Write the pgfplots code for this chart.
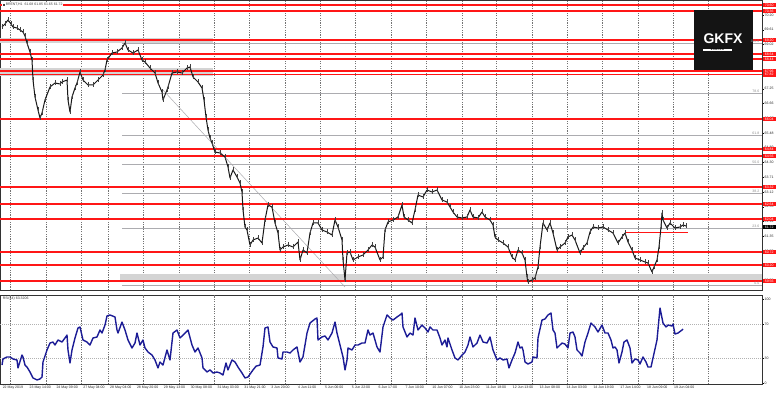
\documentclass[border=0pt]{standalone}
\usepackage{fontspec}
\setmainfont{Liberation Sans}
\usepackage{pgfplots}
\pgfplotsset{compat=1.18}
\definecolor{rsiblue}{RGB}{28,28,150}
\definecolor{mtred}{RGB}{255,22,22}
\definecolor{bandgray}{RGB}{212,212,212}
\definecolor{fibgray}{RGB}{172,172,176}
\newcommand{\tinyf}{\fontsize{3.5}{4}\selectfont}
\pgfplotsset{
  mtgrid/.style={
    extra x ticks={10,46,81,108,143,179,214,249,285,320,355,391,426,462,496,532,567,602,638,673,708},
    extra x tick labels={},
    extra x tick style={grid=major, major tick length=0pt},
    major grid style={black!55, dash pattern=on 1.2pt off 1.2pt, line width=0.35pt},
  }
}
\begin{document}
\begin{tikzpicture}
\useasboundingbox (0pt,0pt) rectangle (780pt,395pt);
\fill[white] (0pt,0pt) rectangle (780pt,395pt);
% ---------------- price panel ----------------
\begin{axis}[
  at={(0pt,105pt)}, anchor=south west, scale only axis,
  width=762pt, height=290pt,
  xmin=0, xmax=762, ymin=59.20, ymax=70.80,
  clip=false,
  xtick=\empty, mtgrid,
  ytick={59.58,60.17,60.76,61.35,61.94,62.53,63.12,63.71,64.30,64.89,65.48,66.07,66.66,67.25,67.84,68.43,69.02,69.61,70.20},
  ytick pos=right, yticklabel pos=right,
  y tick label style={font=\tinyf, inner sep=1pt, text=black!85,
    /pgf/number format/.cd, fixed, fixed zerofill, precision=2, assume math mode=true},
  tick style={black, line width=0.3pt}, major tick length=1.5pt, tick align=outside,
  axis line style={black!80, line width=0.5pt},
]
% grey zones
\addplot[fill=bandgray, draw=none] coordinates {(0,69.08) (213,69.08) (213,69.28) (0,69.28)} -- cycle;
\addplot[fill=bandgray, draw=none] coordinates {(0,67.76) (213,67.76) (213,68.08) (0,68.08)} -- cycle;
\addplot[fill=bandgray, draw=none] coordinates {(120,59.56) (762,59.56) (762,59.84) (120,59.84)} -- cycle;
% fibonacci levels
\pgfplotsinvokeforeach{69.08,67.08,65.40,64.24,63.08,61.68,59.40}{
  \addplot[fibgray, line width=0.5pt] coordinates {(122,#1) (762,#1)};
}
% trend line
\addplot[fibgray, line width=0.5pt] coordinates {(163,67.20) (345,59.32)};
% red levels
\pgfplotsinvokeforeach{70.60,70.36,69.20,68.64,68.44,67.96,67.82,66.04,64.84,64.56,63.32,62.64,62.04,60.72,60.20,59.56}{
  \addplot[mtred, line width=1.3pt] coordinates {(0,#1) (762,#1)};
}
\addplot[mtred, line width=0.6pt] coordinates {(625,61.52) (688,61.52)};
% price
\addplot[black!90, line width=1pt, line join=round,
  error bars/.cd, y dir=both, y fixed=0.1, error mark=none,
  error bar style={black!75, line width=0.4pt}] coordinates {
(2,69.72)(5,69.84)(8,70.00)(11,69.84)(13,69.72)(17,69.68)(20,69.60)(23,69.52)(25,69.36)(27,69.08)
(30,68.72)(32,68.40)(33,67.60)(35,66.92)(38,66.40)(40,66.08)(42,66.28)(45,66.80)(50,67.32)(55,67.48)
(60,67.44)(62,67.52)(67,67.60)(68,66.80)(70,66.32)(72,66.92)(75,67.28)(77,67.48)(80,67.92)(83,67.60)
(88,67.40)(93,67.40)(98,67.60)(103,67.80)(105,68.00)(107,68.40)(112,68.68)(117,68.72)(122,68.88)(125,69.08)
(128,68.80)(133,68.68)(138,68.80)(142,68.40)(145,68.32)(150,68.08)(155,67.88)(158,67.48)(162,67.12)(163,66.80)
(167,67.20)(168,67.32)(172,67.88)(177,67.92)(182,67.88)(187,68.08)(190,68.12)(193,67.72)(198,67.52)(202,67.28)
(204,66.80)(206,66.12)(208,65.60)(210,65.28)(212,65.08)(215,64.72)(220,64.68)(225,64.52)(228,64.12)(230,63.68)
(233,64.00)(237,63.72)(240,63.48)(242,63.12)(243,62.40)(245,61.72)(247,61.60)(250,61.00)(253,61.20)(258,61.28)
(262,61.08)(265,62.00)(268,62.60)(272,62.52)(275,61.88)(278,61.48)(280,60.80)(283,60.92)(288,61.00)(293,60.92)
(298,61.12)(300,60.40)(303,60.80)(307,60.68)(310,61.48)(313,61.88)(318,61.88)(322,61.60)(327,61.52)(332,61.40)
(335,62.00)(338,61.72)(342,61.20)(343,60.40)(345,59.60)(347,60.68)(350,60.72)(353,60.40)(358,60.52)(363,60.60)
(368,60.80)(372,61.00)(375,60.92)(380,60.40)(383,60.52)(385,61.60)(388,61.92)(393,62.00)(398,62.12)(402,62.60)
(404,62.12)(408,62.00)(412,61.88)(415,62.40)(418,63.00)(423,62.92)(427,63.20)(432,63.12)(437,63.20)(442,62.80)
(447,62.72)(450,62.52)(453,62.32)(457,62.12)(462,62.08)(467,62.12)(470,62.40)(473,62.12)(478,62.08)(482,62.32)
(485,62.12)(490,62.00)(493,61.80)(495,61.32)(498,61.20)(503,61.08)(508,60.92)(512,60.52)(515,60.40)(518,60.80)
(522,60.68)(525,60.40)(527,59.72)(528,59.52)(532,59.60)(535,59.68)(538,60.12)(540,60.92)(543,61.88)(547,61.60)
(550,61.88)(553,61.48)(557,60.80)(560,60.92)(565,61.08)(568,61.32)(572,61.40)(575,61.20)(580,60.68)(583,60.88)
(587,61.08)(590,61.52)(593,61.72)(598,61.68)(603,61.72)(608,61.60)(613,61.48)(618,61.08)(622,61.32)(625,61.48)
(628,61.12)(632,60.80)(635,60.48)(640,60.40)(645,60.32)(648,60.28)(652,59.92)(654,60.12)(657,60.40)(659,60.92)
(661,61.72)(662,62.28)(663,62.00)(667,61.68)(670,61.88)(675,61.68)(680,61.72)(683,61.80)(686,61.76)
};
% logo
\fill[black!92] (axis cs:694,68.00) rectangle (axis cs:753,70.40);
\node[text=white, font=\bfseries\fontsize{14}{14}\selectfont, inner sep=0pt] at (axis cs:723,69.26) {GKFX};
\node[fill=white, text=black, inner sep=0.2pt, minimum width=29pt, font=\bfseries\fontsize{2.6}{2.8}\selectfont] at (axis cs:717.5,68.80) {E\,U\,R\,O\,P\,E};
% fib labels
\node[anchor=south east, font=\tinyf, text=black!45, inner sep=0.5pt] at (axis cs:760,69.08) {100.0};
\node[anchor=south east, font=\tinyf, text=black!45, inner sep=0.5pt] at (axis cs:760,67.08) {78.6};
\node[anchor=south east, font=\tinyf, text=black!45, inner sep=0.5pt] at (axis cs:760,65.40) {61.8};
\node[anchor=south east, font=\tinyf, text=black!45, inner sep=0.5pt] at (axis cs:760,64.24) {50.0};
\node[anchor=south east, font=\tinyf, text=black!45, inner sep=0.5pt] at (axis cs:760,63.08) {38.2};
\node[anchor=south east, font=\tinyf, text=black!45, inner sep=0.5pt] at (axis cs:760,61.68) {23.6};
\node[anchor=south east, font=\tinyf, text=black!45, inner sep=0.5pt] at (axis cs:760,59.40) {0.0};
% red price tags
\pgfplotsinvokeforeach{70.60,70.36,69.20,68.64,68.44,67.96,67.82,66.04,64.84,64.56,63.32,62.64,62.04,60.72,60.20,59.56}{
  \node[anchor=west, fill=mtred, text=white, font=\tinyf, inner sep=0.5pt, minimum width=13pt, minimum height=4.4pt] at (axis cs:762.5,#1) {#1};
}
\node[anchor=west, fill=black, text=white, font=\tinyf, inner sep=0.5pt, minimum width=13pt, minimum height=4.4pt] at (axis cs:762.5,61.72) {61.72};
% title
\node[anchor=west, fill=white, font=\tinyf, text=black!75, inner sep=0.6pt] at (axis cs:2,70.60) {\rule{2pt}{2pt}\ BRENT,H1 \ 61.68 61.85 61.65 61.72};
\end{axis}
% ---------------- RSI panel ----------------
\begin{axis}[
  at={(0pt,11pt)}, anchor=south west, scale only axis,
  width=762pt, height=89pt,
  xmin=0, xmax=762, ymin=-1.2, ymax=104.8,
  clip=false,
  xtick={2,28.85,55.7,82.55,109.4,136.25,163.1,189.95,216.8,243.65,270.5,297.35,324.2,351.05,377.9,404.75,431.6,458.45,485.3,512.15,539,565.85,592.7,619.55,646.4,673.25},
  xticklabels={22 May 2019,23 May 14:00,24 May 09:00,27 May 04:00,28 May 04:00,28 May 20:00,29 May 13:00,30 May 08:00,31 May 03:00,31 May 21:00,3 Jun 20:00,4 Jun 11:00,5 Jun 06:00,5 Jun 22:00,6 Jun 17:00,7 Jun 10:00,10 Jun 07:00,10 Jun 23:00,11 Jun 18:00,12 Jun 13:00,13 Jun 08:00,14 Jun 03:00,14 Jun 19:00,17 Jun 14:00,18 Jun 09:00,19 Jun 04:00},
  xtick pos=left,
  x tick label style={font=\tinyf, anchor=north west, inner sep=0.6pt, text=black!85},
  mtgrid,
  ytick={0,30,70,100}, ytick pos=right, yticklabel pos=right,
  y tick label style={font=\tinyf, inner sep=1pt, text=black!85, /pgf/number format/assume math mode=true},
  tick style={black, line width=0.3pt}, major tick length=1.5pt, tick align=outside,
  axis line style={black!80, line width=0.5pt},
]
\addplot[black!30, dash pattern=on 1pt off 1pt, line width=0.3pt] coordinates {(0,70) (762,70)};
\addplot[black!30, dash pattern=on 1pt off 1pt, line width=0.3pt] coordinates {(0,30) (762,30)};
\addplot[rsiblue, line width=1.4pt, line join=round] coordinates {
(2,21.4)(3,28.6)(7,31.0)(10,31.0)(13,28.6)(17,27.4)(18,17.9)(22,33.3)(23,31.0)(25,21.4)
(27,19.0)(30,13.1)(33,6.0)(37,3.6)(40,4.8)(42,7.1)(43,25.0)(47,39.3)(50,47.6)(53,48.8)
(55,45.2)(58,51.2)(62,48.8)(65,53.6)(67,57.1)(68,39.3)(70,23.8)(72,39.3)(75,53.6)(78,65.5)
(80,66.7)(83,51.2)(87,48.8)(90,45.2)(93,53.6)(97,54.8)(100,63.1)(102,59.5)(105,69.0)(107,79.8)
(110,81.0)(115,78.6)(117,63.1)(118,59.5)(122,72.6)(125,63.1)(128,51.2)(132,41.7)(135,47.6)(137,59.5)
(140,45.2)(143,51.2)(145,41.7)(148,36.9)(152,33.3)(155,27.4)(158,17.9)(160,25.0)(163,21.4)(167,39.3)
(170,27.4)(173,59.5)(177,63.1)(180,53.6)(183,57.1)(188,63.1)(192,45.2)(195,36.9)(198,41.7)(202,29.8)
(203,17.9)(207,13.1)(210,15.5)(213,11.9)(217,13.1)(220,11.9)(223,9.5)(226,23.8)(228,15.5)(232,27.4)
(235,25.0)(238,19.0)(242,11.9)(245,6.0)(248,7.1)(253,15.5)(256,20.0)(260,21.4)(263,42.9)(265,65.5)
(268,66.7)(270,48.8)(273,42.9)(277,41.7)(278,29.8)(282,28.6)(283,36.9)(287,36.9)(290,35.7)(293,39.3)
(297,42.9)(300,25.0)(303,31.0)(307,59.5)(310,71.4)(315,76.2)(317,77.4)(318,51.2)(322,54.8)(325,56.0)
(328,51.2)(332,59.5)(335,72.6)(337,59.5)(340,45.2)(343,31.0)(345,15.5)(347,27.4)(348,41.7)(352,39.3)
(355,45.2)(358,45.2)(362,47.6)(365,47.6)(368,63.1)(370,57.1)(373,59.5)(377,42.9)(380,36.9)(383,66.7)
(387,81.0)(390,77.4)(393,75.0)(397,78.6)(400,81.0)(402,83.3)(403,66.7)(407,54.8)(410,59.5)(413,57.1)
(415,77.4)(418,63.1)(422,69.0)(425,65.5)(428,60.7)(430,66.7)(433,63.1)(437,63.1)(440,53.6)(442,45.2)
(445,51.2)(447,42.9)(448,53.6)(452,39.3)(455,29.8)(458,27.4)(462,33.3)(465,36.9)(468,45.2)(470,54.8)
(473,42.9)(477,47.6)(480,57.1)(483,48.8)(487,47.6)(490,54.8)(493,39.3)(497,27.4)(500,29.8)(503,27.4)
(507,28.6)(509,17.9)(512,27.4)(515,35.7)(518,48.8)(520,41.7)(522,42.9)(523,39.3)(525,25.0)(528,22.6)
(532,25.0)(533,31.0)(537,29.8)(538,53.6)(542,75.0)(545,76.2)(548,81.0)(551,83.3)(553,63.1)(555,59.5)
(557,41.7)(562,47.6)(565,46.4)(568,41.7)(570,59.5)(573,60.7)(575,54.8)(577,39.3)(580,35.7)(582,32.1)
(585,48.8)(588,59.5)(591,71.4)(595,66.7)(598,60.7)(602,69.0)(605,59.5)(608,59.5)(611,51.2)(613,41.7)
(615,42.9)(617,39.3)(619,23.8)(622,36.9)(624,48.8)(627,51.2)(630,41.7)(632,23.8)(635,28.6)(638,27.4)
(640,22.6)(643,31.0)(646,25.0)(648,19.0)(651,19.0)(653,29.8)(657,51.2)(660,89.3)(663,71.4)(666,66.7)
(668,69.0)(672,67.9)(673,70.2)(675,58.3)(678,59.5)(682,63.1)(683,64.3)
};
\node[anchor=north west, font=\tinyf, text=black!80, inner sep=0.6pt] at (axis cs:2,103) {RSI(14) 63.3206};
\end{axis}
\end{tikzpicture}
\end{document}
